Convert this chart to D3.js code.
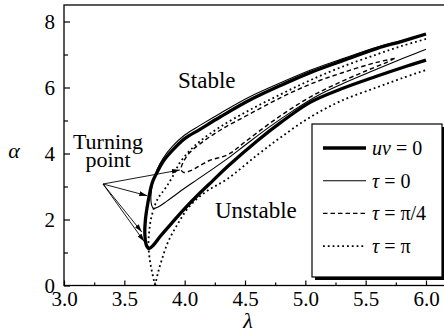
<!DOCTYPE html>
<html>
<head>
<meta charset="utf-8">
<script src="https://cdn.jsdelivr.net/npm/d3@7"></script>
<style>
  html, body { margin: 0; padding: 0; background: #fff; }
  svg { display: block; }
</style>
</head>
<body>
<svg id="chart" width="444" height="332"></svg>
<script>
// Axis ticks
const lambdaTicks = [3.0, 3.5, 4.0, 4.5, 5.0, 5.5, 6.0];
const lambdaMinor = [3.25, 3.75, 4.25, 4.75, 5.25, 5.75];
const alphaTicks = [0, 2, 4, 6, 8];
const alphaMinor = [1, 3, 5, 7];

// Neutral curves [lambda, alpha], each traced from the upper end through the turning point
const uvZero = [
  [6.0, 7.62], [5.8, 7.4], [5.59, 7.18], [5.3, 6.8], [5.04, 6.45], [4.8, 6.07],
  [4.54, 5.62], [4.3, 5.12], [4.13, 4.74], [4.0, 4.45], [3.9, 4.1], [3.82, 3.75],
  [3.77, 3.42], [3.73, 3.1], [3.695, 2.5], [3.675, 2.0], [3.67, 1.55], [3.683, 1.22],
  [3.705, 1.12], [3.74, 1.22], [3.8, 1.5], [3.9, 1.92], [4.0, 2.33], [4.12, 2.78],
  [4.24, 3.2], [4.36, 3.62], [4.6, 4.38], [4.8, 4.95], [5.04, 5.55], [5.3, 5.96],
  [5.59, 6.34], [5.8, 6.6], [6.0, 6.83]
];
const tauZero = [
  [6.0, 7.6], [5.8, 7.42], [5.59, 7.22], [5.3, 6.86], [5.04, 6.52], [4.8, 6.15],
  [4.54, 5.72], [4.3, 5.23], [4.13, 4.86], [4.0, 4.56], [3.9, 4.22], [3.82, 3.85],
  [3.77, 3.5], [3.735, 3.1], [3.72, 2.7], [3.725, 2.45], [3.74, 2.34], [3.78, 2.38],
  [3.85, 2.55], [3.95, 2.82], [4.1, 3.2], [4.24, 3.55], [4.36, 3.86], [4.5, 4.25],
  [4.7, 4.8], [4.9, 5.3], [5.1, 5.75], [5.3, 6.1], [5.59, 6.55], [5.8, 6.87], [6.0, 7.16]
];
const tauQuarter = [
  [5.74, 6.88], [5.59, 6.76], [5.3, 6.44], [5.04, 6.1], [4.8, 5.7], [4.54, 5.2],
  [4.3, 4.72], [4.13, 4.3], [4.04, 4.02], [3.99, 3.75], [3.97, 3.52], [3.99, 3.43],
  [4.05, 3.48], [4.2, 3.78], [4.36, 3.97], [4.5, 4.35], [4.7, 4.9], [4.9, 5.4],
  [5.1, 5.83], [5.3, 6.18], [5.5, 6.5], [5.66, 6.74], [5.74, 6.88]
];
const tauPiUpper = [
  [3.755, 0], [3.73, 0.4], [3.71, 0.8], [3.70, 1.2], [3.705, 1.6], [3.72, 2.0],
  [3.75, 2.4], [3.78, 2.65], [3.81, 2.8], [3.85, 3.0], [3.9, 3.3], [3.96, 3.72],
  [4.04, 4.08], [4.13, 4.38], [4.3, 4.82], [4.54, 5.32], [4.8, 5.8], [5.04, 6.22],
  [5.3, 6.62], [5.59, 7.0], [5.8, 7.26], [6.0, 7.47]
];
const tauPiLower = [
  [3.755, 0], [3.78, 0.4], [3.81, 0.77], [3.86, 1.3], [3.94, 1.85], [4.04, 2.4],
  [4.18, 2.85], [4.35, 3.22], [4.6, 3.95], [4.8, 4.5], [5.04, 5.1], [5.3, 5.6],
  [5.59, 6.0], [5.8, 6.28], [6.0, 6.53]
];

// Legend text
const legendVars = ["uv", "τ", "τ", "τ"];
const legendValues = ["0", "0", "π/4", "π"];

const serif = '"Liberation Serif", serif';

const svg = d3.select("#chart");
const x = d3.scaleLinear().domain([3, 6]).range([64, 426]);
const y = d3.scaleLinear().domain([0, 8]).range([285.5, 21.5]);
const frameRight = 447;
const frameTop = y(8.5);

const line = d3.line()
  .x(d => x(d[0]))
  .y(d => y(d[1]))
  .curve(d3.curveCatmullRom.alpha(0.5));

// Line styles
const styles = {
  uv:      { width: 3.3, dash: null },
  tau0:    { width: 1.1, dash: null },
  quarter: { width: 1.4, dash: "4.5,3" },
  pi:      { width: 1.8, dash: "1.8,3" }
};

const curves = [
  { data: tauPiUpper, s: styles.pi },
  { data: tauPiLower, s: styles.pi },
  { data: tauQuarter, s: styles.quarter },
  { data: tauZero, s: styles.tau0 },
  { data: uvZero, s: styles.uv }
];

svg.append("g").selectAll("path")
  .data(curves)
  .join("path")
  .attr("d", d => line(d.data))
  .attr("fill", "none")
  .attr("stroke", "#000")
  .attr("stroke-width", d => d.s.width)
  .attr("stroke-dasharray", d => d.s.dash)
  .attr("stroke-linejoin", "round");

// Frame (right side runs past the edge)
svg.append("rect")
  .attr("x", x(3)).attr("y", frameTop)
  .attr("width", frameRight - x(3)).attr("height", y(0) - frameTop)
  .attr("fill", "none").attr("stroke", "#000").attr("stroke-width", 1.3);

// Axes with inward ticks
const xAxis = svg.append("g").attr("transform", `translate(0,${y(0)})`)
  .call(d3.axisBottom(x).tickValues(lambdaTicks).tickSize(-5).tickPadding(8)
    .tickFormat(d3.format(".1f")));
const xMinor = svg.append("g").attr("transform", `translate(0,${y(0)})`)
  .call(d3.axisBottom(x).tickValues(lambdaMinor).tickSize(-3).tickFormat(""));
const yAxis = svg.append("g").attr("transform", `translate(${x(3)},0)`)
  .call(d3.axisLeft(y).tickValues(alphaTicks).tickSize(-6).tickPadding(9)
    .tickFormat(d3.format("d")));
const yMinor = svg.append("g").attr("transform", `translate(${x(3)},0)`)
  .call(d3.axisLeft(y).tickValues(alphaMinor).tickSize(-4).tickFormat(""));

[xAxis, xMinor, yAxis, yMinor].forEach(g => {
  g.select(".domain").remove();
  g.selectAll("line").attr("stroke", "#000").attr("stroke-width", 1.2);
  g.selectAll("text").attr("fill", "#000")
    .style("font-family", serif).style("font-size", "21px");
});
xAxis.selectAll("text").attr("dy", "0.71em").attr("y", 6);
yAxis.selectAll("text").attr("dy", "0.34em");

function label(px, py, size, str, anchor, italic) {
  return svg.append("text")
    .attr("x", px).attr("y", py)
    .style("font-family", serif).style("font-size", size + "px")
    .style("font-style", italic ? "italic" : "normal")
    .attr("text-anchor", anchor || "start")
    .attr("fill", "#000")
    .text(str);
}

// Axis titles
label(248, 328, 22, "λ", "middle", true);
label(14, 158, 22, "α", "middle", true);

// Region labels
label(178, 88, 23, "Stable");
label(215, 218, 23, "Unstable");
label(108, 149, 22, "Turning", "middle");
label(108, 167, 22, "point", "middle");

// Arrows to the turning points
svg.append("defs").append("marker")
  .attr("id", "head").attr("viewBox", "0 0 10 6")
  .attr("refX", 10).attr("refY", 3)
  .attr("markerWidth", 8).attr("markerHeight", 5)
  .attr("markerUnits", "userSpaceOnUse")
  .attr("orient", "auto")
  .append("path").attr("d", "M0,0 L10,3 L0,6 Z").attr("fill", "#000");

const arrowTargets = [
  [3.96, 3.5],
  [3.69, 2.72],
  [3.645, 1.62],
  [3.665, 1.33]
];
const arrowOrigin = [103, 184];
svg.selectAll("line.arrow")
  .data(arrowTargets)
  .join("line")
  .attr("class", "arrow")
  .attr("x1", arrowOrigin[0]).attr("y1", arrowOrigin[1])
  .attr("x2", d => x(d[0])).attr("y2", d => y(d[1]))
  .attr("stroke", "#000").attr("stroke-width", 0.9)
  .attr("marker-end", "url(#head)");

// Legend with a drop shadow
const lg = { x: 312, y: 124, w: 130, h: 153 };
svg.append("rect").attr("x", lg.x + 3).attr("y", lg.y + 3)
  .attr("width", lg.w).attr("height", lg.h).attr("fill", "#000");
svg.append("rect").attr("x", lg.x).attr("y", lg.y)
  .attr("width", lg.w).attr("height", lg.h)
  .attr("fill", "#fff").attr("stroke", "#000").attr("stroke-width", 1.2);

const legendStyles = [styles.uv, styles.tau0, styles.quarter, styles.pi];
const rows = svg.selectAll("g.legend-row")
  .data(legendVars.map((v, i) => ({ v, val: legendValues[i], s: legendStyles[i] })))
  .join("g")
  .attr("class", "legend-row")
  .attr("transform", (d, i) => `translate(${lg.x},${lg.y + 24 + i * 32.7})`);
rows.append("line")
  .attr("x1", 11).attr("x2", 54).attr("y1", 0).attr("y2", 0)
  .attr("stroke", "#000")
  .attr("stroke-width", d => d.s.width)
  .attr("stroke-dasharray", d => d.s.dash);
const lt = rows.append("text").attr("x", 60).attr("y", 7)
  .style("font-family", serif).style("font-size", "20px").attr("fill", "#000");
lt.append("tspan").style("font-style", "italic").text(d => d.v);
lt.append("tspan").text(d => " = " + d.val);
</script>
</body>
</html>
